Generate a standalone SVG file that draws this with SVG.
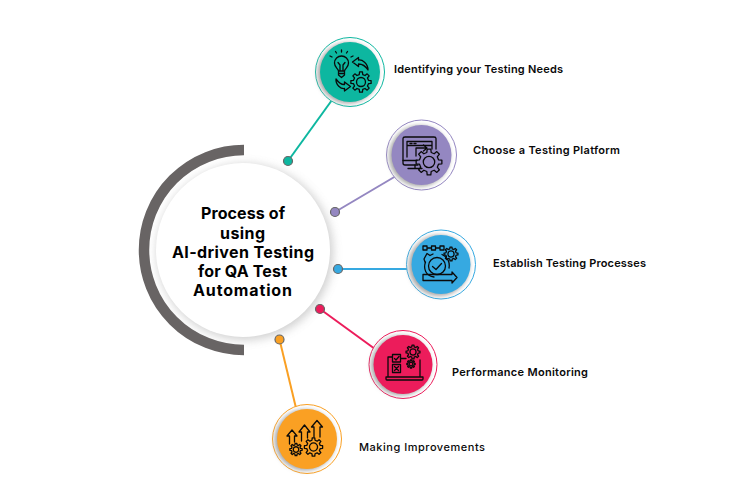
<svg xmlns="http://www.w3.org/2000/svg" xmlns:xlink="http://www.w3.org/1999/xlink" width="750" height="500" viewBox="0 0 750 500">
<style>
.lbl{font-family:"Inter","Liberation Sans",sans-serif;font-size:11px;font-weight:600;fill:#0a0a0a}
.ttl{font-family:"Inter","Liberation Sans",sans-serif;font-size:16px;font-weight:700;fill:#000}
.ic{fill:none;stroke:#0a0a0a;stroke-width:1.3;stroke-linejoin:round;stroke-linecap:round}
.gs{vector-effect:non-scaling-stroke}
.ln{fill:none;stroke-width:2}
.dot{stroke:#666;stroke-width:1.2}
.ring{fill:#fff;stroke-width:1}
.sh{fill:#a8a8a8;filter:url(#b2)}
</style>
<defs>
<filter id="b2" x="-30%" y="-30%" width="160%" height="160%"><feGaussianBlur stdDeviation="2"/></filter>
<filter id="b5" x="-30%" y="-30%" width="160%" height="160%"><feGaussianBlur stdDeviation="5"/></filter>
<g id="gear">
<path class="gs" d="M7.31-1.69L9.9-1.39L9.9 1.39L7.31 1.69L6.36 3.97L7.99 6.02L6.02 7.99L3.97 6.36L1.69 7.31L1.39 9.9L-1.39 9.9L-1.69 7.31L-3.97 6.36L-6.02 7.99L-7.99 6.02L-6.36 3.97L-7.31 1.69L-9.9 1.39L-9.9-1.39L-7.31-1.69L-6.36-3.97L-7.99-6.02L-6.02-7.99L-3.97-6.36L-1.69-7.31L-1.39-9.9L1.39-9.9L1.69-7.31L3.97-6.36L6.02-7.99L7.99-6.02L6.36-3.97Z"/>
<circle class="gs" r="4.4"/>
</g>
</defs>

<g id="hub">
<path d="M244 150A100 100 0 0 0 244 350" fill="none" stroke="#686464" stroke-width="10.5"/>
<circle cx="245" cy="252" r="88" fill="#888" opacity="0.4" filter="url(#b5)"/>
<circle cx="243" cy="250" r="87" fill="#fff"/>
<text class="ttl" x="201" y="219" textLength="84" lengthAdjust="spacing">Process of</text>
<text class="ttl" x="220" y="238.500" textLength="45" lengthAdjust="spacing">using</text>
<text class="ttl" x="172" y="258" textLength="142" lengthAdjust="spacing">AI-driven Testing</text>
<text class="ttl" x="198" y="276.500" textLength="89" lengthAdjust="spacing">for QA Test</text>
<text class="ttl" x="193" y="295.500" textLength="99" lengthAdjust="spacing">Automation</text>
</g>

<g id="connectors">
<line class="ln" x1="288" y1="161" x2="332" y2="100" stroke="#0db7a0"/>
<line class="ln" x1="335" y1="212" x2="396" y2="176" stroke="#9487c1"/>
<line class="ln" x1="338" y1="269" x2="408" y2="269" stroke="#36a9e1"/>
<line class="ln" x1="320" y1="309" x2="375" y2="349" stroke="#ec1c5b"/>
<line class="ln" x1="279.500" y1="339.500" x2="296" y2="408" stroke="#faa023"/>
<circle class="dot" cx="288" cy="161" r="4.500" fill="#0db7a0"/>
<circle class="dot" cx="335" cy="212" r="4.500" fill="#9487c1"/>
<circle class="dot" cx="338" cy="269" r="4.500" fill="#36a9e1"/>
<circle class="dot" cx="320" cy="309" r="4.500" fill="#ec1c5b"/>
<circle class="dot" cx="279.500" cy="339.500" r="4.500" fill="#faa023"/>
</g>

<g id="node1">
<circle class="ring" cx="350" cy="72" r="34.500" stroke="#0db7a0"/>
<circle class="sh" cx="348" cy="73" r="30.500"/>
<circle cx="350" cy="72" r="30" fill="#0db7a0"/>
<g class="ic">
<path d="M338.500 71C338 68.500 334.500 67.500 334.500 63A7 7 0 0 1 348.500 63C348.500 67.500 345 68.500 344.500 71ZM338.500 71V75L341.500 77.500L344.500 75V71M338.500 73.500H344.500M340 71V65L338 62.500M343 71V65L345 62.500"/>
<path d="M332 57L330 56M336.500 53L335.500 51.500M341.500 52V50M346.500 53L347.500 51.500M351 57L353 56"/>
<path d="M368 70C368 63 362 59.500 358.500 60V57.500L352.500 62L358.500 66.500V64C362 64 365.500 66 368 70Z"/>
<path d="M336 79C335.500 85 341 89 344.500 88.500V91L350.500 86.500L344.500 82V84.500C341.500 84.700 338.500 82.500 336 79Z"/>
<use href="#gear" transform="translate(361 82) scale(1.02)"/>
</g>
</g>
<text class="lbl" x="394" y="73" textLength="169" lengthAdjust="spacing">Identifying your Testing Needs</text>

<g id="node2">
<circle class="ring" cx="421.500" cy="155" r="35" stroke="#9487c1"/>
<circle class="sh" cx="419.500" cy="156" r="30.500"/>
<circle cx="421.500" cy="155" r="30" fill="#9487c1"/>
<g class="ic">
<path d="M418 165H405C403.800 165 403 164.200 403 163V138.500C403 137.500 403.800 137 405 137H434C435.200 137 436 137.500 436 138.500V149"/>
<path d="M403 160.500H417M407 141.500V157M407 141.500H432V149M407 145.500H432"/>
<path d="M410 143.500H412M414 143.500H416"/>
<path d="M416 156V148H426M423.500 145L427 148L423.500 151"/>
<path d="M415 165V168.500M408 168.500H422"/>
<use href="#gear" transform="translate(429 162) scale(1.3)"/>
</g>
</g>
<text class="lbl" x="473" y="154" textLength="147" lengthAdjust="spacing">Choose a Testing Platform</text>

<g id="node3">
<circle class="ring" cx="441" cy="264.500" r="34.500" stroke="#36a9e1"/>
<circle class="sh" cx="439" cy="265.500" r="30.500"/>
<circle cx="441" cy="264.500" r="29.500" fill="#36a9e1"/>
<g class="ic">
<path d="M423 246H427V250H423ZM431.500 246H435.500V250H431.500ZM440 246H444V250H440ZM427.500 248H431M436 248H439.500"/>
<use href="#gear" transform="translate(451 254) scale(0.7)"/>
<path d="M425 262L424 259L427 253.500L430 255.500L433 254"/>
<circle cx="437" cy="266" r="8.500"/>
<path d="M432.500 266.500L436 269.500L441.500 263.500"/>
<path d="M434 277C426 276 423 269 425.500 262M442 254.500C448 257 450 263 449 268"/>
<path d="M423 280.500V274.500H452V272L457 277.500L452 283V280.500Z"/>
</g>
</g>
<text class="lbl" x="493" y="267" textLength="153" lengthAdjust="spacing">Establish Testing Processes</text>

<g id="node4">
<circle class="ring" cx="403" cy="364.500" r="34" stroke="#ec1c5b"/>
<circle class="sh" cx="401" cy="365.500" r="30"/>
<circle cx="403" cy="364.500" r="29.500" fill="#ec1c5b"/>
<g class="ic">
<path d="M392 357H388V377M386 377H423V379C423 379.500 422.500 380 422 380H387C386.500 380 386 379.500 386 379ZM420 377V360"/>
<path d="M392.500 354.500H400.500V362H392.500ZM394.500 358.500L396 360L399 356.500"/>
<path d="M392.500 364.500H400.500V372.500H392.500ZM394.500 366.500L398.500 370.500M398.500 366.500L394.500 370.500"/>
<path d="M401 358.500H406"/>
<use href="#gear" transform="translate(413 352) scale(0.7)"/>
<use href="#gear" transform="translate(411 364) scale(0.42)"/>
</g>
</g>
<text class="lbl" x="452" y="376" textLength="136" lengthAdjust="spacing">Performance Monitoring</text>

<g id="node5">
<circle class="ring" cx="307" cy="439" r="34.500" stroke="#faa023"/>
<circle class="sh" cx="305" cy="440" r="30.500"/>
<circle cx="307" cy="439" r="30" fill="#faa023"/>
<g class="ic">
<path d="M289.500 444V436H287L292 430L297 436H294.500V442"/>
<path d="M301.500 441V432H299L304.500 425L310 432H307.500V438"/>
<path d="M314 437V427H311.500L317 420.500L322.500 427H320V437"/>
<use href="#gear" transform="translate(296 449.500) scale(0.62)"/>
<use href="#gear" transform="translate(313.500 447) scale(0.92)"/>
</g>
</g>
<text class="lbl" x="359" y="451" textLength="126" lengthAdjust="spacing" style="font-weight:500">Making Improvements</text>
</svg>
